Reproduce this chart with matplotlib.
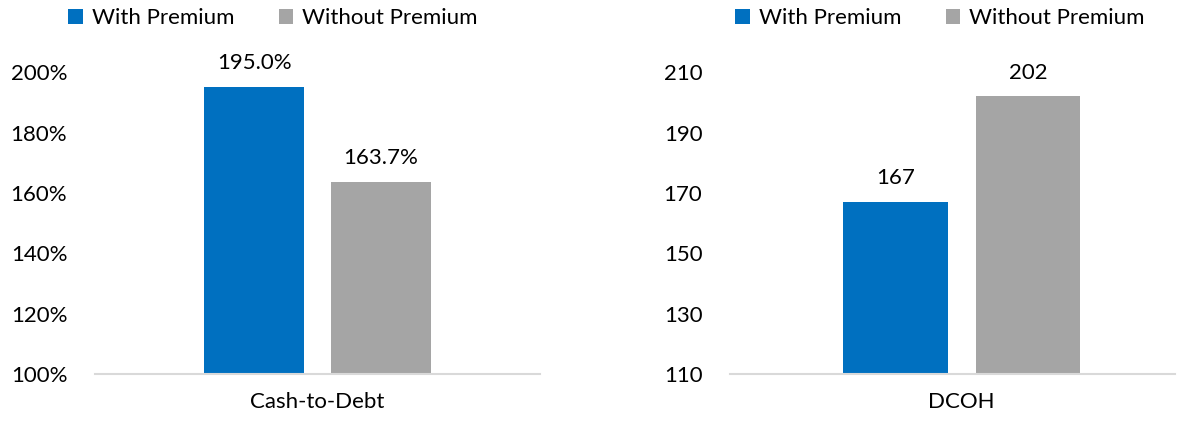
import matplotlib.pyplot as plt
from matplotlib.ticker import FuncFormatter

plt.rcParams['font.family'] = ['Lato', 'DejaVu Sans']

# data
series = ['With Premium', 'Without Premium']
colors = ['#0070C0', '#A5A5A5']

cash_label = 'Cash-to-Debt'
cash_vals = [195.0, 163.7]

dcoh_label = 'DCOH'
dcoh_vals = [167, 202]

fig = plt.figure(figsize=(11.97, 4.22), dpi=100)
ax1 = fig.add_axes([0.0794, 0.1137, 0.372, 0.715])
ax2 = fig.add_axes([0.610, 0.1137, 0.372, 0.715])

fs = 16


def draw(ax, vals, cat, ylim, step, fmt, lab_fmt, xlim, w, off):
    offs = [-off, off]
    for i, v in enumerate(vals):
        ax.bar(offs[i], v - ylim[0], bottom=ylim[0], width=w, color=colors[i], label=series[i])
        ax.annotate(lab_fmt(v), (offs[i], v), xytext=(0, 10), textcoords='offset points',
                    ha='center', va='bottom', fontsize=fs)
    ax.set_ylim(*ylim)
    ax.set_xlim(*xlim)
    ax.set_yticks(range(ylim[0], ylim[1] + 1, step))
    ax.yaxis.set_major_formatter(FuncFormatter(fmt))
    ax.set_xticks([0])
    ax.set_xticklabels([cat])
    for s in ['top', 'right', 'left']:
        ax.spines[s].set_visible(False)
    ax.spines['bottom'].set_color('#D9D9D9')
    ax.spines['bottom'].set_linewidth(1.5)
    ax.tick_params(axis='both', length=0, labelsize=fs, colors='black')
    ax.tick_params(axis='y', pad=20)
    ax.tick_params(axis='x', pad=13)


draw(ax1, cash_vals, cash_label, (100, 200), 20,
     lambda v, p: f'{v:.0f}%', lambda v: f'{v:.1f}%', (-1.0, 1.0), 0.45, 0.285)
draw(ax2, dcoh_vals, dcoh_label, (110, 210), 20,
     lambda v, p: f'{v:.0f}', lambda v: f'{v:.0f}', (-1.04, 0.96), 0.47, 0.297)

for ax, cx in [(ax1, 273 / 1197), (ax2, 940 / 1197)]:
    ax.legend(loc='center', bbox_to_anchor=(cx, 1 - 18 / 422), bbox_transform=fig.transFigure,
              ncol=2, frameon=False, fontsize=fs, handlelength=0.65, handleheight=0.65,
              handletextpad=0.4, columnspacing=2.0, borderpad=0)

fig.savefig('out.png', dpi=100)
